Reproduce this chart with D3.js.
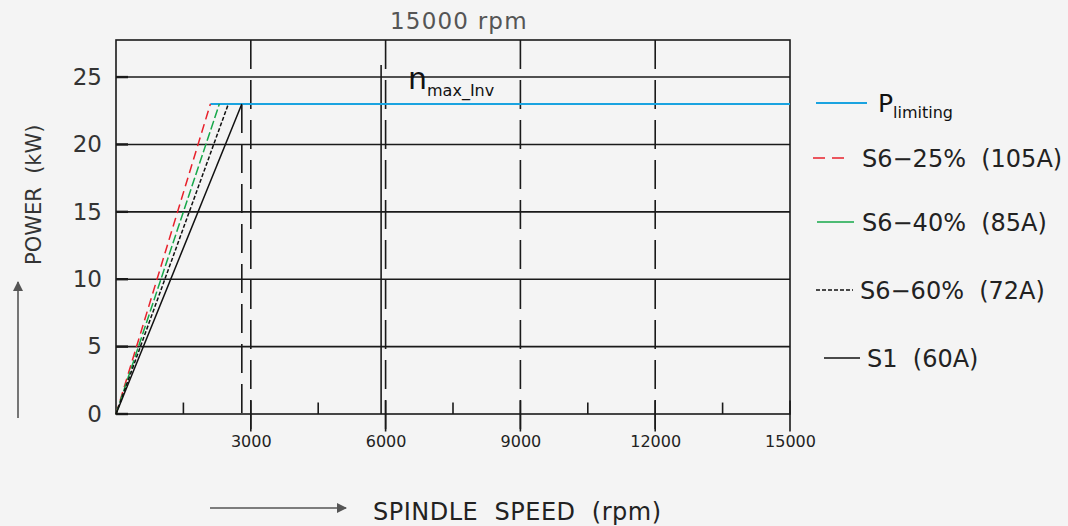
<!DOCTYPE html>
<html>
<head>
<meta charset="utf-8">
<script src="https://cdn.jsdelivr.net/npm/d3@7"></script>
<style>
  body { margin: 0; background: #f4f4f4; }
  svg { display: block; font-family: "DejaVu Sans", sans-serif; }
  text { white-space: pre; }
</style>
</head>
<body>
<div class="visHolder"></div>
<script>
// values
let seriesNames = ['S6\u221225%  (105A)', 'S6\u221240%  (85A)', 'S6\u221260%  (72A)', 'S1  (60A)'];
let seriesColors = ['#e8212b', '#16a84a', '#111111', '#111111'];
let seriesDash = ['9,5', '9,3', '4,2', null];
let cornerSpeeds = [2100, 2300, 2500, 2800];   // rpm where each line reaches P limit
let powerLimit = 23;                            // kW
let limitStart = 2100;
let limitEnd = 15000;
let nMaxInv = 5900;
let nMaxInvTop = 25.9;
let xTicks = [3000, 6000, 9000, 12000, 15000];
let xMinorTicks = [1500, 4500, 7500, 10500, 13500];
let dashedSpeeds = [3000, 6000, 9000, 12000];
let yTicks = [0, 5, 10, 15, 20, 25];

let width = 1068;
let height = 526;
let plotLeft = 116, plotRight = 790, plotTop = 40, plotBottom = 414;

let svg = d3.select('.visHolder').append('svg');
let xScale, yScale;

function drawCanvas() {
  svg.attr('width', width)
     .attr('height', height);
  svg.append('defs').append('marker')
     .attr('id', 'arrow')
     .attr('viewBox', '0 0 10 10')
     .attr('refX', 9).attr('refY', 5)
     .attr('markerWidth', 14).attr('markerHeight', 10)
     .attr('markerUnits', 'userSpaceOnUse')
     .attr('orient', 'auto')
     .append('path')
     .attr('d', 'M0,0 L10,5 L0,10 z')
     .attr('fill', '#555');
}

function generateScales() {
  xScale = d3.scaleLinear()
             .domain([0, 15000])
             .range([plotLeft, plotRight]);
  yScale = d3.scaleLinear()
             .domain([0, 27.75])
             .range([plotBottom, plotTop]);
}

function generateGrid() {
  let g = svg.append('g').attr('stroke', '#1a1a1a').attr('stroke-width', 1.6);

  // horizontal grid
  g.selectAll('.hgrid')
   .data(yTicks.filter(d => d > 0))
   .enter().append('line')
   .attr('x1', plotLeft).attr('x2', plotRight)
   .attr('y1', d => yScale(d)).attr('y2', d => yScale(d));

  // frame
  g.append('rect')
   .attr('x', plotLeft).attr('y', plotTop)
   .attr('width', plotRight - plotLeft).attr('height', plotBottom - plotTop)
   .attr('fill', 'none');

  // small y ticks
  g.selectAll('.ytick')
   .data(yTicks)
   .enter().append('line')
   .attr('x1', plotLeft).attr('x2', plotLeft + 12)
   .attr('y1', d => yScale(d)).attr('y2', d => yScale(d))
   .attr('stroke-width', 2.4);

  // long dashed verticals
  g.selectAll('.vdash')
   .data(dashedSpeeds)
   .enter().append('line')
   .attr('x1', d => xScale(d)).attr('x2', d => xScale(d))
   .attr('y1', plotTop).attr('y2', yScale(-1.3))
   .attr('stroke-dasharray', '29,11');

  // major ticks below axis
  g.selectAll('.xtick')
   .data(xTicks)
   .enter().append('line')
   .attr('x1', d => xScale(d)).attr('x2', d => xScale(d))
   .attr('y1', yScale(1)).attr('y2', yScale(-1.3));

  // minor ticks
  g.selectAll('.xminor')
   .data(xMinorTicks)
   .enter().append('line')
   .attr('x1', d => xScale(d)).attr('x2', d => xScale(d))
   .attr('y1', yScale(0.85)).attr('y2', yScale(0));

  // S1 corner marker
  g.append('line')
   .attr('x1', xScale(cornerSpeeds[3])).attr('x2', xScale(cornerSpeeds[3]))
   .attr('y1', yScale(powerLimit)).attr('y2', yScale(0))
   .attr('stroke-dasharray', '29,11');

  // n max inverter line
  g.append('line')
   .attr('x1', xScale(nMaxInv)).attr('x2', xScale(nMaxInv))
   .attr('y1', yScale(nMaxInvTop)).attr('y2', yScale(0));
}

function generateAxes() {
  let xAxis = d3.axisBottom(xScale).tickValues(xTicks).tickFormat(d3.format('d'))
                .tickSize(0).tickPadding(22);
  svg.append('g')
     .attr('transform', 'translate(0,' + plotBottom + ')')
     .call(xAxis)
     .call(g => g.select('.domain').remove())
     .selectAll('text')
     .attr('font-size', 16)
     .attr('font-family', '"DejaVu Sans", sans-serif')
     .attr('fill', '#222');

  let yAxis = d3.axisLeft(yScale).tickValues(yTicks).tickSize(0).tickPadding(14);
  svg.append('g')
     .attr('transform', 'translate(' + plotLeft + ',0)')
     .call(yAxis)
     .call(g => g.select('.domain').remove())
     .selectAll('text')
     .attr('font-size', 23)
     .attr('font-family', '"DejaVu Sans", sans-serif')
     .attr('fill', '#333');
}

function drawLines() {
  let line = d3.line().x(d => xScale(d[0])).y(d => yScale(d[1]));

  svg.append('path')
     .datum([[limitStart, powerLimit], [limitEnd, powerLimit]])
     .attr('d', line)
     .attr('fill', 'none')
     .attr('stroke', '#1aa3e0')
     .attr('stroke-width', 2.2);

  cornerSpeeds.forEach((s, i) => {
    svg.append('path')
       .datum([[0, 0], [s, powerLimit]])
       .attr('d', line)
       .attr('fill', 'none')
       .attr('stroke', seriesColors[i])
       .attr('stroke-width', 1.5)
       .attr('stroke-dasharray', seriesDash[i]);
  });
}

function drawTexts() {
  svg.append('text')
     .attr('x', 390).attr('y', 29)
     .attr('font-size', 23)
     .attr('letter-spacing', 1.2)
     .attr('fill', '#555')
     .text('15000 rpm');

  let nt = svg.append('text').attr('x', 408).attr('y', 89).attr('fill', '#111');
  nt.append('tspan').attr('font-size', 30).text('n');
  nt.append('tspan').attr('font-size', 16).attr('dy', 7).text('max_Inv');

  // y label + arrow
  svg.append('text')
     .attr('transform', 'translate(41,265) rotate(-90)')
     .attr('font-size', 21)
     .attr('fill', '#333')
     .text('POWER  (kW)');
  svg.append('line')
     .attr('x1', 18).attr('x2', 18).attr('y1', 418).attr('y2', 282)
     .attr('stroke', '#555').attr('stroke-width', 1.6)
     .attr('marker-end', 'url(#arrow)');

  // x label + arrow
  svg.append('text')
     .attr('x', 373).attr('y', 520)
     .attr('font-size', 24)
     .attr('letter-spacing', 0.5)
     .attr('fill', '#222')
     .text('SPINDLE  SPEED  (rpm)');
  svg.append('line')
     .attr('x1', 210).attr('x2', 346).attr('y1', 508).attr('y2', 508)
     .attr('stroke', '#555').attr('stroke-width', 1.6)
     .attr('marker-end', 'url(#arrow)');
}

function drawLegend() {
  let lg = svg.append('g');
  // P limiting
  lg.append('line').attr('x1', 816).attr('x2', 867).attr('y1', 103).attr('y2', 103)
    .attr('stroke', '#1aa3e0').attr('stroke-width', 2);
  let pt = lg.append('text').attr('x', 878).attr('y', 112).attr('fill', '#111');
  pt.append('tspan').attr('font-size', 25).text('P');
  pt.append('tspan').attr('font-size', 16).attr('dy', 6).text('limiting');

  let rowsY = [158, 222, 290, 358];
  let lineX = [[813, 851], [817, 854], [816, 853], [824, 860]];
  let textX = [862, 862, 860, 867];
  seriesNames.forEach((name, i) => {
    lg.append('line')
      .attr('x1', lineX[i][0]).attr('x2', lineX[i][1])
      .attr('y1', rowsY[i]).attr('y2', rowsY[i])
      .attr('stroke', seriesColors[i])
      .attr('stroke-width', 1.5)
      .attr('stroke-dasharray', i == 0 ? '12,7' : (i == 2 ? '4,2' : null));
    lg.append('text')
      .attr('x', textX[i]).attr('y', rowsY[i] + 9)
      .attr('font-size', 24)
      .attr('fill', '#222')
      .text(name);
  });
}

drawCanvas();
generateScales();
generateGrid();
generateAxes();
drawLines();
drawTexts();
drawLegend();
</script>
</body>
</html>
